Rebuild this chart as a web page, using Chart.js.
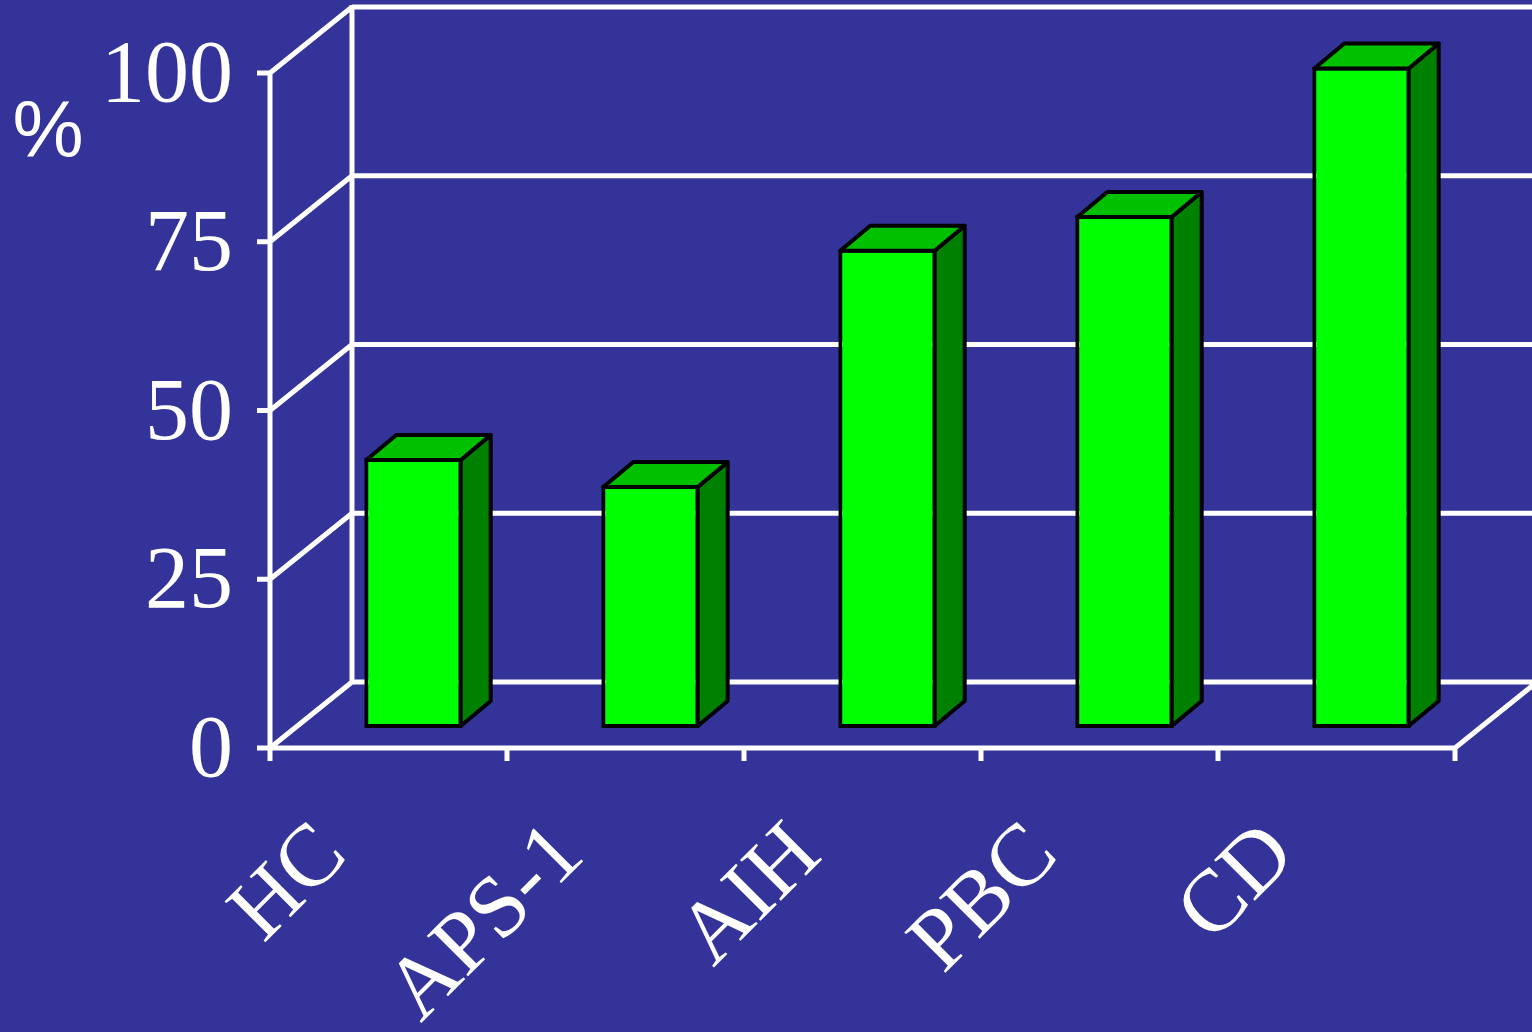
<!DOCTYPE html>
<html>
<head>
<meta charset="utf-8">
<script src="https://cdn.jsdelivr.net/npm/chart.js@4.4.0/dist/chart.umd.min.js"></script>
<style>
  html, body { margin: 0; padding: 0; background: #333399; }
  canvas { display: block; }
</style>
</head>
<body>
<canvas id="chart" width="1532" height="1032"></canvas>
<script>
// data
const groups = ['HC', 'APS-1', 'AIH', 'PBC', 'CD'];
const percent = [40, 36, 71, 76, 98];
const yMax = 100;
const yStep = 25;

const bg = '#333399';
const lineColor = '#ffffff';
const wallShift = { x: 82, y: -66 };   // back wall offset
const barShift = { x: 25, y: -20 };    // bars sit a bit into the box
const barDepth = { x: 30, y: -25 };    // depth of each bar

const ctx = document.getElementById('chart').getContext('2d');

// draws the 3d box, the bar sides/tops and the "%" label
const box3d = {
    id: 'box3d',
    beforeDraw(chart) {
        const c = chart.ctx;
        c.save();
        c.fillStyle = bg;
        c.fillRect(0, 0, chart.width, chart.height);
        c.restore();
    },
    beforeDatasetsDraw(chart) {
        const c = chart.ctx;
        const area = chart.chartArea;
        const y = chart.scales.y;
        const x = chart.scales.x;
        c.save();
        c.strokeStyle = lineColor;
        c.lineWidth = 5;
        c.lineCap = 'butt';

        c.beginPath();
        // back wall lines + left wall diagonals + y tick marks
        for (let v = 0; v <= yMax; v += yStep) {
            const py = y.getPixelForValue(v);
            c.moveTo(area.left + wallShift.x, py + wallShift.y);
            c.lineTo(chart.width + 10, py + wallShift.y);
            c.moveTo(area.left, py);
            c.lineTo(area.left + wallShift.x, py + wallShift.y);
            c.moveTo(area.left - 13, py);
            c.lineTo(area.left, py);
        }
        // back wall left edge
        c.moveTo(area.left + wallShift.x, y.getPixelForValue(0) + wallShift.y);
        c.lineTo(area.left + wallShift.x, y.getPixelForValue(yMax) + wallShift.y - 2);
        // front axis
        c.moveTo(area.left, area.bottom + 2);
        c.lineTo(area.left, y.getPixelForValue(yMax));
        // floor front + right
        c.moveTo(area.left, area.bottom);
        c.lineTo(area.right, area.bottom);
        c.lineTo(area.right + wallShift.x, area.bottom + wallShift.y);
        // x tick marks on category boundaries
        const half = (x.getPixelForValue(1) - x.getPixelForValue(0)) / 2;
        for (let i = 0; i <= groups.length; i++) {
            const px = x.getPixelForValue(i) - half;
            c.moveTo(px, area.bottom);
            c.lineTo(px, area.bottom + 13);
        }
        c.stroke();

        // "%" label
        c.fillStyle = lineColor;
        c.font = '80px "Liberation Sans", Arial, sans-serif';
        c.textAlign = 'center';
        c.textBaseline = 'middle';
        c.fillText('%', 48, 135);
        c.restore();

        c.save();
        c.translate(barShift.x, barShift.y);
    },
    afterDatasetsDraw(chart) {
        const c = chart.ctx;
        const meta = chart.getDatasetMeta(0);
        const bw = 4;
        c.lineWidth = bw;
        c.strokeStyle = '#000000';
        c.lineJoin = 'round';
        meta.data.forEach(bar => {
            const p = bar.getProps(['x', 'y', 'width', 'base'], true);
            const l = p.x - p.width / 2 + bw / 2;
            const r = p.x + p.width / 2 - bw / 2;
            const t = p.y + bw / 2;
            const b = p.base - bw / 2;
            // side
            c.beginPath();
            c.moveTo(r, t);
            c.lineTo(r + barDepth.x, t + barDepth.y);
            c.lineTo(r + barDepth.x, b + barDepth.y);
            c.lineTo(r, b);
            c.closePath();
            c.fillStyle = '#008000';
            c.fill();
            c.stroke();
            // top
            c.beginPath();
            c.moveTo(l, t);
            c.lineTo(l + barDepth.x, t + barDepth.y);
            c.lineTo(r + barDepth.x, t + barDepth.y);
            c.lineTo(r, t);
            c.closePath();
            c.fillStyle = '#00c000';
            c.fill();
            c.stroke();
        });
        c.restore();
    }
};

const chart = new Chart(ctx, {
    type: 'bar',
    data: {
        labels: groups,
        datasets: [{
            data: percent,
            backgroundColor: '#00ff00',
            borderColor: '#000000',
            borderWidth: 4,
            borderSkipped: false,
            barPercentage: 0.415,
            categoryPercentage: 1,
            clip: false
        }]
    },
    options: {
        responsive: false,
        animation: false,
        layout: { padding: { top: 73, right: 77, left: 0, bottom: 0 } },
        plugins: {
            legend: { display: false },
            tooltip: { enabled: false }
        },
        scales: {
            x: {
                grid: { display: false, drawTicks: false },
                border: { display: false },
                afterFit(scale) { scale.height = 284; },
                ticks: {
                    color: lineColor,
                    font: { family: '"Liberation Serif", "Times New Roman", serif', size: 88, lineHeight: 1 },
                    minRotation: 45,
                    maxRotation: 45,
                    autoSkip: false,
                    labelOffset: -55,
                    padding: 62
                }
            },
            y: {
                min: 0,
                max: yMax,
                grid: { display: false, drawTicks: false },
                border: { display: false },
                afterFit(scale) {
                    scale.width = 270;
                    scale.paddingTop = 0;
                    scale.paddingBottom = 0;
                },
                ticks: {
                    stepSize: yStep,
                    color: lineColor,
                    padding: 37,
                    labelOffset: 5,
                    font: { family: '"Liberation Serif", "Times New Roman", serif', size: 88 }
                }
            }
        }
    },
    plugins: [box3d]
});
</script>
</body>
</html>
